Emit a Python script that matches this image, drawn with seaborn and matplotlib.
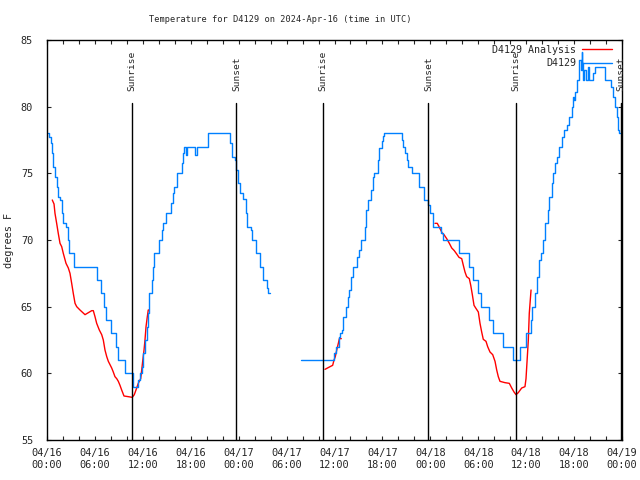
import pandas as pd
import matplotlib
matplotlib.use("Agg")
import matplotlib.pyplot as plt
import matplotlib.dates as mdates
import seaborn as sns

START = pd.Timestamp("2024-04-16 00:00")

# ── D4129 observations (hours after START, deg F), drawn as steps ─────────────
OBS1_HOURS = [0.16, 0.29, 0.46, 0.59, 0.71, 0.79, 1.00, 1.21, 1.34, 1.63, 1.84, 2.04,
              2.38, 2.59, 2.72, 3.42, 6.30, 6.76, 7.18, 7.39, 8.01, 8.64, 8.85, 9.80,
              10.81, 11.36, 11.65, 11.86, 12.02, 12.27, 12.48, 12.65, 12.81, 13.11,
              13.31, 13.44, 14.06, 14.36, 14.56, 14.86, 15.53, 15.82, 15.94, 16.24,
              16.87, 17.07, 17.19, 17.37, 17.49, 18.53, 18.75, 20.20, 22.92, 23.13,
              23.54, 23.67, 23.95, 24.17, 24.51, 24.88, 25.08, 25.51, 25.71, 26.13,
              26.67, 27.08, 27.59, 27.71, 27.92]
OBS1_TEMPS = [78.0, 77.75, 77.25, 76.5, 76.0, 75.5, 74.75, 74.0, 73.25, 73.0, 72.0, 71.25,
              71.0, 70.0, 69.0, 68.0, 67.0, 66.0, 65.0, 64.0, 63.0, 62.0, 61.0, 60.0,
              59.0, 59.5, 60.0, 60.5, 61.5, 62.5, 63.5, 64.5, 66.0, 67.0,
              68.0, 69.0, 70.0, 70.75, 71.25, 72.0, 72.75, 73.5, 74.0, 75.0,
              75.75, 76.5, 77.0, 76.4, 77.0, 76.4, 77.0, 78.0, 77.25, 76.25,
              76.0, 75.25, 74.25, 73.5, 73.1, 72.0, 71.0, 70.75, 70.0, 69.0,
              68.0, 67.0, 66.4, 66.0, 66.0]

OBS2_HOURS = [31.81, 35.98, 36.15, 36.53, 36.69, 36.94, 37.10, 37.40, 37.65, 37.82, 38.07,
              38.35, 38.78, 39.07, 39.32, 39.82, 39.95, 40.16, 40.53, 40.78, 40.95, 41.41,
              41.57, 41.91, 42.11, 42.24, 44.42, 44.62, 44.83, 45.04, 45.24, 45.67, 46.62,
              47.20, 47.75, 47.96, 48.30, 49.30, 49.62, 51.63, 52.84, 53.30, 53.97, 54.35,
              55.35, 55.89, 57.14, 58.39, 59.29, 60.04, 60.57, 60.77, 61.11, 61.40, 61.61,
              61.82, 62.07, 62.36, 62.70, 62.90, 63.20, 63.40, 63.61, 63.82, 64.15, 64.45,
              64.74, 65.08, 65.36, 65.70, 65.83, 65.99, 66.12, 66.33, 66.66, 66.83, 66.95,
              67.03, 67.16, 67.28, 67.43, 67.70, 67.91, 68.41, 68.62, 69.87, 70.59, 70.90,
              71.12, 71.34, 71.54, 71.66, 71.81]
OBS2_TEMPS = [61.0, 61.5, 62.0, 62.75, 63.0, 63.25, 64.25, 65.0, 65.75, 66.25, 67.25,
              68.0, 68.75, 69.25, 70.0, 71.0, 72.25, 73.0, 73.75, 74.75, 75.0, 76.0,
              76.9, 77.4, 77.8, 78.0, 77.5, 77.0, 76.5, 76.0, 75.5, 75.0, 74.0,
              73.0, 72.6, 72.0, 71.0, 70.5, 70.0, 69.0, 68.0, 67.0, 66.0, 65.0,
              64.0, 63.0, 62.0, 61.0, 62.0, 63.0, 64.0, 65.0, 66.0, 67.25, 68.5,
              69.0, 70.0, 71.25, 72.25, 73.25, 74.25, 75.0, 75.75, 76.25, 77.0, 77.75,
              78.25, 78.6, 79.25, 80.0, 80.75, 80.5, 81.1, 82.0, 83.5, 82.75, 84.1,
              83.25, 82.0, 82.75, 82.0, 83.0, 82.0, 82.5, 83.0, 82.0, 81.5, 80.75,
              80.0, 79.25, 78.25, 78.0, 78.0]

# ── D4129 Analysis (hours after START, deg F) ────────────────────────────────
ANA1_HOURS = [0.66, 0.88, 1.00, 1.21, 1.41, 1.63, 1.84, 2.04, 2.38, 2.67, 2.88, 3.09,
              3.29, 3.51, 3.72, 4.13, 4.76, 5.60, 5.80, 6.01, 6.22, 6.55, 6.85, 7.05,
              7.26, 7.48, 7.68, 8.10, 8.30, 8.51, 8.73, 8.93, 9.14, 9.35, 9.64, 10.18,
              10.68, 10.93, 11.14, 11.43, 11.73, 11.86, 11.98, 12.15, 12.27, 12.40,
              12.56, 12.68, 12.81]
ANA1_TEMPS = [73.0, 72.7, 72.0, 71.25, 70.5, 69.75, 69.5, 69.0, 68.25, 67.9, 67.5, 66.75,
              66.0, 65.25, 65.0, 64.75, 64.4, 64.7, 64.7, 64.25, 63.75, 63.25, 62.9, 62.5,
              61.75, 61.25, 60.9, 60.4, 60.1, 59.75, 59.6, 59.4, 59.1, 58.75, 58.3, 58.25,
              58.2, 58.4, 58.75, 59.25, 59.6, 60.25, 60.9, 61.75, 62.5, 63.5,
              64.25, 64.75, 64.75]

ANA2_HOURS = [34.81, 35.44, 35.77, 35.94, 36.10, 36.28, 36.48, 36.61, 36.85]
ANA2_TEMPS = [60.3, 60.5, 60.6, 61.0, 61.25, 61.75, 62.25, 62.6, 62.6]

ANA3_HOURS = [48.58, 48.87, 49.09, 49.30, 49.50, 49.71, 50.05, 50.38, 50.68, 51.00, 51.30,
              51.59, 51.93, 52.13, 52.34, 52.55, 52.88, 53.06, 53.26, 53.47, 53.68, 54.01,
              54.22, 54.43, 54.63, 54.97, 55.18, 55.47, 55.81, 56.10, 56.31, 56.51, 56.72,
              57.35, 57.89, 58.19, 58.48, 58.73, 59.01, 59.44, 59.85, 59.98, 60.11, 60.27,
              60.39, 60.61]
ANA3_TEMPS = [71.25, 71.25, 71.0, 70.75, 70.5, 70.4, 70.1, 69.75, 69.4, 69.2, 68.95,
              68.7, 68.6, 68.1, 67.6, 67.25, 67.1, 66.6, 65.9, 65.1, 64.9, 64.6,
              63.75, 63.1, 62.55, 62.4, 62.0, 61.6, 61.4, 60.9, 60.25, 59.75, 59.4,
              59.3, 59.25, 58.9, 58.6, 58.4, 58.55, 58.9, 59.0, 59.6, 60.9, 62.5,
              64.5, 66.25]

# ── Sun events ────────────────────────────────────────────────────────────────
SUN_HOURS = [10.67, 23.72, 34.60, 47.77, 58.68, 71.85]
SUN_LABELS = ["Sunrise", "Sunset", "Sunrise", "Sunset", "Sunrise", "Sunset"]

RED = "#ff0000"
BLUE = "#0080ff"


def frame(hours, temps):
    return pd.DataFrame({"time": START + pd.to_timedelta(hours, unit="h"), "temp": temps})


sns.set_style("ticks")
plt.rcParams["font.family"] = ["DejaVu Sans Mono"]

fig = plt.figure(figsize=(6.4, 4.8), dpi=100)
ax = fig.add_axes([47 / 640, 40 / 480, 575 / 640, 400 / 480])

for i, (h, t) in enumerate([(ANA1_HOURS, ANA1_TEMPS), (ANA2_HOURS, ANA2_TEMPS),
                            (ANA3_HOURS, ANA3_TEMPS)]):
    sns.lineplot(data=frame(h, t), x="time", y="temp", ax=ax, color=RED, lw=1,
                 estimator=None, sort=False, legend=False,
                 label="D4129 Analysis" if i == 0 else None)

for i, (h, t) in enumerate([(OBS1_HOURS, OBS1_TEMPS), (OBS2_HOURS, OBS2_TEMPS)]):
    sns.lineplot(data=frame(h, t), x="time", y="temp", ax=ax, color=BLUE, lw=1,
                 estimator=None, sort=False, legend=False, drawstyle="steps-post",
                 label="D4129" if i == 0 else None)

# lineas de salida / puesta del sol
for h, lab in zip(SUN_HOURS, SUN_LABELS):
    t = START + pd.Timedelta(hours=h)
    ax.axvline(t, ymin=0, ymax=0.8425, color="black", lw=1.0)
    ax.text(t, 0.8725, lab, transform=ax.get_xaxis_transform(), rotation=90,
            ha="center", va="bottom", fontsize=6.8)

ax.set_xlim(START, START + pd.Timedelta(hours=72))
ax.set_ylim(55, 85)
ax.set_yticks(range(55, 86, 5))
ax.xaxis.set_major_locator(mdates.HourLocator(byhour=[0, 6, 12, 18]))
ax.xaxis.set_minor_locator(mdates.HourLocator(byhour=range(0, 24, 2)))
ax.xaxis.set_major_formatter(mdates.DateFormatter("%m/%d\n%H:%M"))
ax.tick_params(which="both", direction="in", top=True, right=True, length=3,
               width=0.8, labelsize=7.4)
ax.tick_params(axis="x", pad=6)
ax.tick_params(axis="y", pad=10)
for s in ax.spines.values():
    s.set_color("black")
    s.set_linewidth(1)

ax.set_xlabel("")
ax.set_ylabel("degrees F", fontsize=7.4)
ax.yaxis.set_label_coords(-0.058, 0.5)

handles, labels = ax.get_legend_handles_labels()
ax.legend(handles, labels, loc="upper right", bbox_to_anchor=(0.983, 0.988),
          frameon=False, markerfirst=False, handlelength=3.0, handletextpad=0.6,
          fontsize=7.2, borderaxespad=0, borderpad=0, labelspacing=0.35)

fig.text(149 / 640, 1 - 20 / 480, "Temperature for D4129 on 2024-Apr-16 (time in UTC)",
         ha="left", va="center", fontsize=6.2)

fig.savefig("out.png", dpi=100)
